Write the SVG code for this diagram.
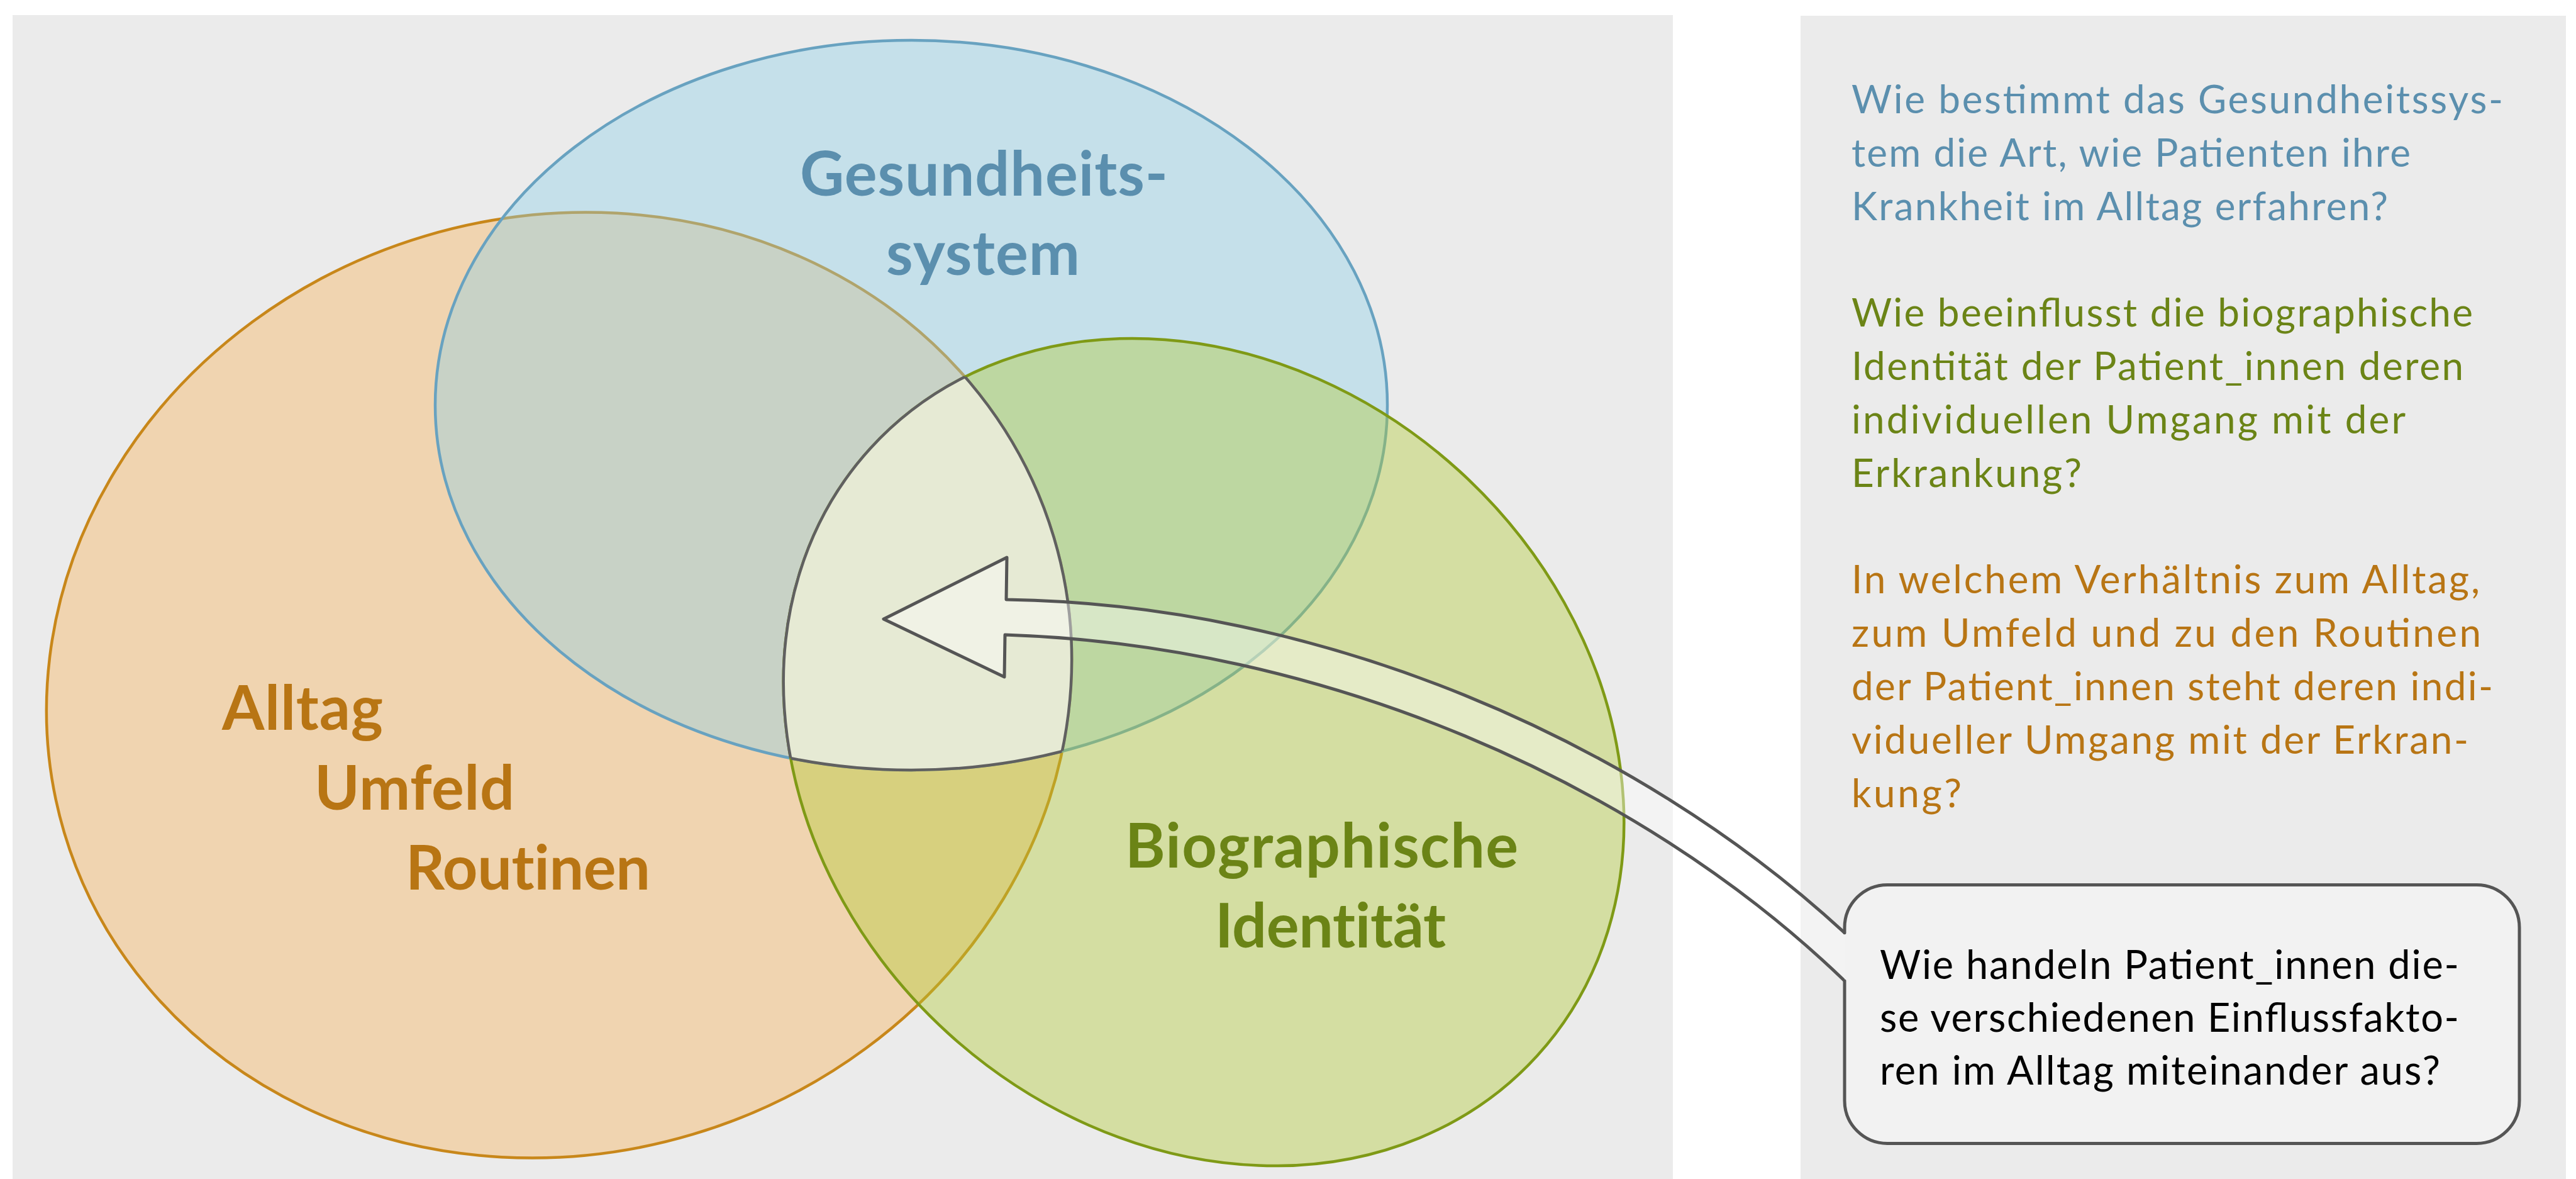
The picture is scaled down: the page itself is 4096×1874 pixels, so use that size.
<svg xmlns="http://www.w3.org/2000/svg" width="4096" height="1874" viewBox="0 0 4096 1874">
  <style>
    .panel { fill: #ebebeb; }
    .label { font-family: Lato, "Noto Sans", sans-serif; font-weight: 700; font-size: 97px; font-variant-ligatures: none; font-feature-settings: "liga" 0, "dlig" 0; }
    .body { font-family: Lato, "Noto Sans", sans-serif; font-weight: 400; font-size: 62px; }
    .callout-text { font-family: Lato, "Noto Sans", sans-serif; font-weight: 400; font-size: 63px; fill: #000; }
    .c-blue { fill: #5b8fae; }
    .c-green { fill: #6b8416; }
    .c-orange { fill: #b87514; }
    .core-edge { fill: none; stroke: #606060; stroke-width: 4.5; }
    .outline { fill: none; stroke: #555; stroke-width: 5; stroke-linejoin: round; stroke-linecap: round; }
  </style>
  <defs>
    <ellipse id="e-orange" cx="889" cy="1089" rx="821" ry="745" transform="rotate(-16.6 889 1089)"/>
    <ellipse id="e-blue" cx="1449" cy="644" rx="757" ry="580"/>
    <ellipse id="e-green" cx="1914" cy="1195.5" rx="717" ry="604" transform="rotate(42.3 1914 1195.5)"/>
    <clipPath id="clip-orange"><use href="#e-orange"/></clipPath>
    <clipPath id="clip-blue"><use href="#e-blue"/></clipPath>
    <clipPath id="clip-green"><use href="#e-green"/></clipPath>
  </defs>

  <!-- background panels -->
  <rect class="panel" x="20" y="24" width="2640" height="1850"/>
  <rect class="panel" x="2863" y="25" width="1217" height="1849"/>

  <!-- the three circles -->
  <g id="alltag">
    <use href="#e-orange" fill="#f7b157" fill-opacity="0.4" stroke="#c8871a" stroke-width="4.5"/>
  </g>
  <g id="gesundheitssystem">
    <use href="#e-blue" fill="#8cd0e9" fill-opacity="0.4" stroke="#68a2c0" stroke-width="4.5"/>
  </g>
  <g id="identitaet">
    <use href="#e-green" fill="#b2cb35" fill-opacity="0.4" stroke="#7f9a16" stroke-width="4.5"/>
  </g>

  <!-- common core of all three circles -->
  <g id="core">
    <g clip-path="url(#clip-orange)">
      <g clip-path="url(#clip-blue)">
        <use href="#e-green" fill="#e6ead4"/>
      </g>
    </g>
    <g clip-path="url(#clip-blue)">
      <g clip-path="url(#clip-green)">
        <use href="#e-orange" class="core-edge"/>
      </g>
    </g>
    <g clip-path="url(#clip-orange)">
      <g clip-path="url(#clip-green)">
        <use href="#e-blue" class="core-edge"/>
      </g>
    </g>
    <g clip-path="url(#clip-orange)">
      <g clip-path="url(#clip-blue)">
        <use href="#e-green" class="core-edge"/>
      </g>
    </g>
  </g>

  <!-- circle labels -->
  <g id="label-gesundheitssystem" class="label c-blue">
    <text x="1272" y="311" textLength="585">Gesundheits-</text>
    <text x="1409" y="437" textLength="308">system</text>
  </g>
  <g id="label-alltag" class="label c-orange">
    <text x="353" y="1160" textLength="256">Alltag</text>
    <text x="500" y="1287" textLength="318">Umfeld</text>
    <text x="645" y="1414" textLength="389">Routinen</text>
  </g>
  <g id="label-identitaet" class="label c-green">
    <text x="1789" y="1379" textLength="625">Biographische</text>
    <text x="1932" y="1506" textLength="367">Identität</text>
  </g>

  <!-- block arrow running from the speech bubble into the core -->
  <g id="connectors">
    <path d="M1405,984 L1601,886 L1600,953 C2100,960 2600,1175 2933,1482.7 L2933,1559 C2600,1238 2100,1025 1598,1009 L1597,1076 Z" fill="#ffffff" fill-opacity="0.4"/>
    <path class="outline" d="M2933,1482.7 C2600,1175 2100,960 1600,953 L1601,886 L1405,984 L1597,1076 L1598,1009 C2100,1025 2600,1238 2933,1559"/>
  </g>

  <!-- speech bubble -->
  <g id="question-bubble">
    <rect x="2933" y="1406.4" width="1073" height="411.1" rx="68" ry="68" fill="#f2f2f2"/>
    <path class="outline" d="M2933,1482.7 L2933,1474.4 A68,68 0 0 1 3001,1406.4 L3938,1406.4 A68,68 0 0 1 4006,1474.4 L4006,1749.5 A68,68 0 0 1 3938,1817.5 L3001,1817.5 A68,68 0 0 1 2933,1749.5 L2933,1559"/>
    <text class="callout-text" x="2989" y="1556" textLength="921">Wie handeln Patient_innen die-</text>
    <text class="callout-text" x="2989" y="1640" textLength="921">se verschiedenen Einflussfakto-</text>
    <text class="callout-text" x="2989" y="1724" textLength="891">ren im Alltag miteinander aus?</text>
  </g>

  <!-- research questions -->
  <g id="question-system" class="body c-blue">
    <text x="2944" y="180" textLength="1036">Wie bestimmt das Gesundheitssys-</text>
    <text x="2944" y="265" textLength="889">tem die Art, wie Patienten ihre</text>
    <text x="2944" y="350" textLength="853">Krankheit im Alltag erfahren?</text>
  </g>
  <g id="question-identity" class="body c-green">
    <text x="2944" y="519" textLength="988">Wie beeinflusst die biographische</text>
    <text x="2944" y="604" textLength="973">Identität der Patient_innen deren</text>
    <text x="2944" y="689" textLength="881">individuellen Umgang mit der</text>
    <text x="2944" y="774" textLength="366">Erkrankung?</text>
  </g>
  <g id="question-routine" class="body c-orange">
    <text x="2944" y="943" textLength="999">In welchem Verhältnis zum Alltag,</text>
    <text x="2944" y="1028" textLength="1001">zum Umfeld und zu den Routinen</text>
    <text x="2944" y="1113" textLength="1020">der Patient_innen steht deren indi-</text>
    <text x="2944" y="1198" textLength="981">vidueller Umgang mit der Erkran-</text>
    <text x="2944" y="1283" textLength="175">kung?</text>
  </g>
</svg>
